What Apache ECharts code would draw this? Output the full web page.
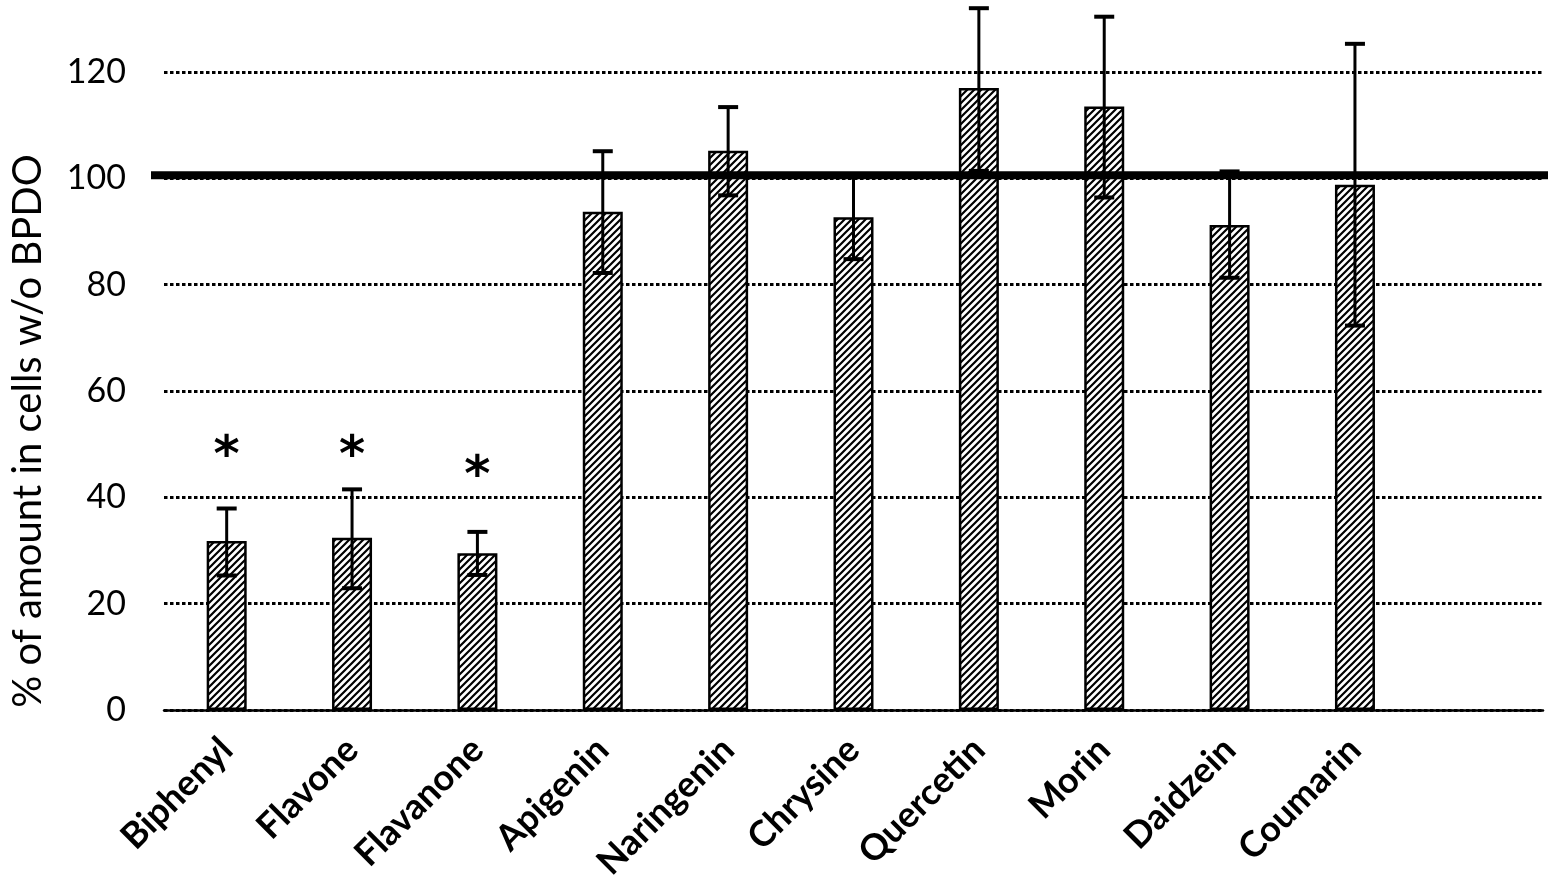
<!DOCTYPE html>
<html>
<head>
<meta charset="utf-8">
<script src="https://cdn.jsdelivr.net/npm/echarts@6/dist/echarts.min.js"></script>
<style>
    html, body { margin: 0; padding: 0; background: #fff; }
</style>
</head>
<body>
<div id="main" style="width: 1549px;height:896px;"></div>
<script type="text/javascript">

    // categories (last slot is empty, as in the original)
    var categories = ['Biphenyl', 'Flavone', 'Flavanone', 'Apigenin', 'Naringenin',
                      'Chrysine', 'Quercetin', 'Morin', 'Daidzein', 'Coumarin', ''];
    // bar values (%)
    var values   = [31.8, 32.4, 29.5, 93.7, 105.2, 92.7, 117.0, 113.5, 91.2, 98.8];
    // error bar ends
    var errLow   = [25.3, 22.9, 25.4, 82.2, 96.8, 84.8, 101.4, 96.4, 81.3, 72.3];
    var errHigh  = [37.9, 41.5, 33.5, 105.1, 113.4, 100.5, 132.0, 130.4, 101.3, 125.3];
    // significance marks (height of the star)
    var starY    = [49.8, 49.8, 46.1];
    // reference level
    var refLevel = [100.6];
    var yTicks   = [0, 120, 20];   // min, max, interval

    // hatch fill for the bars
    function hatch() {
        var s = 7;
        var c = document.createElement('canvas');
        c.width = s; c.height = s;
        var ctx = c.getContext('2d');
        ctx.fillStyle = '#fff';
        ctx.fillRect(0, 0, s, s);
        ctx.strokeStyle = '#000';
        ctx.lineWidth = 2.2;
        ctx.beginPath();
        ctx.moveTo(-1, s + 1); ctx.lineTo(s + 1, -1);
        ctx.moveTo(-s / 2 - 1, s / 2 + 1); ctx.lineTo(s / 2 + 1, -s / 2 - 1);
        ctx.moveTo(s / 2 - 1, s * 1.5 + 1); ctx.lineTo(s * 1.5 + 1, s / 2 - 1);
        ctx.stroke();
        return c;
    }

    var errData = [];
    for (var i = 0; i < values.length; i++) {
        errData.push([i, errLow[i], errHigh[i]]);
    }
    var starData = [];
    for (var j = 0; j < starY.length; j++) {
        starData.push([j, starY[j]]);
    }

    var myChart = echarts.init(document.getElementById('main'));

    var option = {
        animation: false,
        backgroundColor: '#fff',
        grid: { left: 163, right: 6, top: 72, bottom: 186 },
        xAxis: {
            type: 'category',
            data: categories,
            axisLine: { lineStyle: { color: '#000', width: 2.5 } },
            axisTick: { show: false },
            axisLabel: {
                interval: 0,
                rotate: 45,
                margin: 34,
                color: '#000',
                fontFamily: 'Lato',
                fontWeight: 'bold',
                fontSize: 36
            }
        },
        yAxis: {
            type: 'value',
            min: yTicks[0],
            max: yTicks[1],
            interval: yTicks[2],
            name: '% of amount in cells w/o BPDO',
            nameLocation: 'middle',
            nameGap: 116,
            nameTextStyle: {
                color: '#000',
                fontFamily: 'Lato',
                fontSize: 40,
                padding: [0, 80, 0, 0]
            },
            axisLine: { show: false },
            axisTick: { show: false },
            axisLabel: {
                margin: 38,
                color: '#000',
                fontFamily: 'Lato',
                fontSize: 34
            },
            splitLine: {
                lineStyle: { color: '#000', width: 3, type: [3.5, 2.5] }
            }
        },
        series: [
            {
                type: 'bar',
                data: values,
                barWidth: 40,
                itemStyle: {
                    color: { image: hatch(), repeat: 'repeat' },
                    borderColor: '#000',
                    borderWidth: 2.5
                },
                z: 2
            },
            {
                // horizontal line at 100 %
                type: 'custom',
                data: refLevel,
                clip: false,
                z: 4,
                renderItem: function (params, api) {
                    var cs = params.coordSys;
                    var y = api.coord([0, api.value(0)])[1];
                    return {
                        type: 'line',
                        shape: { x1: cs.x - 13, y1: y, x2: cs.x + cs.width + 5, y2: y },
                        style: { stroke: '#000', lineWidth: 8 }
                    };
                },
                encode: { y: 0 }
            },
            {
                // error bars
                type: 'custom',
                data: errData,
                clip: false,
                z: 3,
                renderItem: function (params, api) {
                    var lo = api.coord([api.value(0), api.value(1)]);
                    var hi = api.coord([api.value(0), api.value(2)]);
                    var half = 10;
                    var st = { stroke: '#000', lineWidth: 3 };
                    return {
                        type: 'group',
                        children: [
                            { type: 'line', shape: { x1: lo[0], y1: lo[1], x2: hi[0], y2: hi[1] }, style: st },
                            { type: 'line', shape: { x1: hi[0] - half, y1: hi[1], x2: hi[0] + half, y2: hi[1] }, style: { stroke: '#000', lineWidth: 4 } },
                            { type: 'line', shape: { x1: lo[0] - half, y1: lo[1], x2: lo[0] + half, y2: lo[1] }, style: { stroke: '#000', lineWidth: 4 } }
                        ]
                    };
                },
                encode: { x: 0, y: [1, 2] }
            },
            {
                // asterisks
                type: 'custom',
                data: starData,
                clip: false,
                z: 5,
                renderItem: function (params, api) {
                    var p = api.coord([api.value(0), api.value(1)]);
                    return {
                        type: 'text',
                        x: p[0],
                        y: p[1] + 13,
                        style: {
                            text: '*',
                            fill: '#000',
                            font: 'bold 50px "DejaVu Sans"',
                            align: 'center',
                            verticalAlign: 'middle'
                        }
                    };
                },
                encode: { x: 0, y: 1 }
            }
        ]
    };

    myChart.setOption(option);
</script>
</body>
</html>
